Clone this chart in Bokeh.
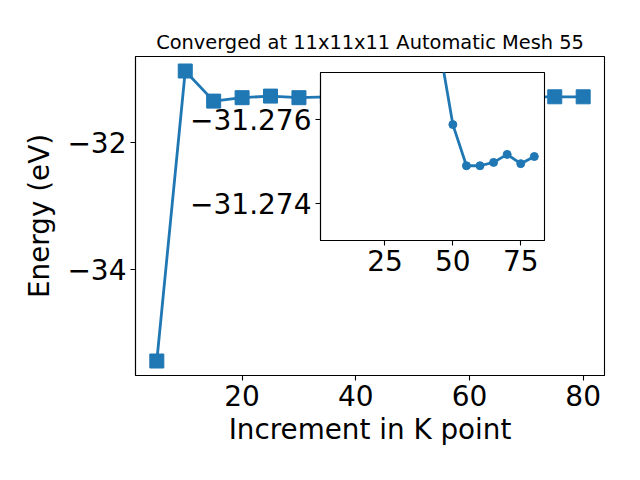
from bokeh.plotting import figure
from bokeh.models import Range1d, FixedTicker, CustomJSTickFormatter
from bokeh.layouts import column
from bokeh.embed import file_html
from bokeh.resources import INLINE

# ---- data ----
kpoints = [5, 10, 15, 20, 25, 30, 35, 40, 45, 50, 55, 60, 65, 70, 75, 80]
energy = [-35.433, -30.869, -31.343, -31.289, -31.264, -31.289, -31.275, -31.278,
          -31.27776, -31.27588, -31.27490, -31.27490, -31.27498, -31.27517, -31.27495, -31.27512]
inset_start = 8
inset_k = kpoints[inset_start:]
inset_e = energy[inset_start:]

main_xticks = [20, 40, 60, 80]
main_yticks = [-34, -32]
inset_xticks = [25, 50, 75]
inset_yticks = [-31.276, -31.274]
inset_ylim = (-31.27312, -31.27712)  # inverted axis (bottom, top)

title_text = "Converged at 11x11x11 Automatic Mesh 55"
xlabel = "Increment in K point"
ylabel = "Energy (eV)"

BLUE = "#1f77b4"
FONT = "DejaVu Sans"
TICK_PX = "28px"
BORDER_L = 135
BORDER_R = 20


def style_axes(fig, digits):
    fmt = CustomJSTickFormatter(
        code="return (tick < 0 ? '\\u2212' : '') + Math.abs(tick).toFixed(%d);" % digits)
    for ax in fig.xaxis + fig.yaxis:
        ax.major_label_text_font = FONT
        ax.major_label_text_font_size = TICK_PX
        ax.major_label_text_color = "black"
        ax.axis_line_color = "black"
        ax.axis_line_width = 1.1
        ax.major_tick_line_color = "black"
        ax.major_tick_line_width = 1.1
        ax.major_tick_out = 5
        ax.major_tick_in = 0
        ax.minor_tick_out = 0
        ax.minor_tick_in = 0
        ax.major_label_standoff = 4
        ax.axis_label_text_font = FONT
        ax.axis_label_text_font_style = "normal"
        ax.axis_label_text_color = "black"
    for ax in fig.yaxis:
        ax.formatter = fmt
    fig.xgrid.visible = False
    fig.ygrid.visible = False
    fig.outline_line_color = "black"
    fig.outline_line_width = 1.1
    fig.outline_line_alpha = 1.0


# ---- main figure ----
xpad = (max(kpoints) - min(kpoints)) * 0.05
ypad = (max(energy) - min(energy)) * 0.05
p = figure(width=624, height=464, output_backend="svg", toolbar_location=None,
           x_range=Range1d(min(kpoints) - xpad, max(kpoints) + xpad),
           y_range=Range1d(min(energy) - ypad, max(energy) + ypad),
           min_border_left=BORDER_L, min_border_right=BORDER_R,
           min_border_top=56, min_border_bottom=89)
p.line(kpoints, energy, line_color=BLUE, line_width=2.8)
p.scatter(kpoints, energy, marker="square", size=14, fill_color=BLUE, line_color=BLUE)
style_axes(p, 0)
p.xaxis.ticker = FixedTicker(ticks=main_xticks)
p.yaxis.ticker = FixedTicker(ticks=main_yticks)
p.xaxis.axis_label = xlabel
p.yaxis.axis_label = ylabel
p.xaxis.axis_label_text_font_size = "27.8px"
p.yaxis.axis_label_text_font_size = "27.8px"
p.xaxis.axis_label_standoff = 4
p.yaxis.axis_label_standoff = 8
p.title.text = title_text
p.title.align = "center"
p.title.text_font = FONT
p.title.text_font_size = "19.4px"
p.title.text_font_style = "normal"
p.title.text_color = "black"
p.title.standoff = 6

# ---- inset figure ----
ins = figure(width=BORDER_L + 224 + BORDER_R, height=2 + 168 + 45,
             output_backend="svg", toolbar_location=None,
             x_range=Range1d(min(kpoints) - xpad, max(kpoints) + xpad),
             y_range=Range1d(*inset_ylim),
             min_border_left=BORDER_L, min_border_right=BORDER_R,
             min_border_top=2, min_border_bottom=45,
             background_fill_color="white", border_fill_alpha=0)
ins.line(inset_k, inset_e, line_color=BLUE, line_width=2.8)
ins.scatter(inset_k, inset_e, marker="circle", size=8, fill_color=BLUE, line_color=BLUE)
style_axes(ins, 3)
ins.xaxis.ticker = FixedTicker(ticks=inset_xticks)
ins.yaxis.ticker = FixedTicker(ticks=inset_yticks)
ins.margin = (70 - 464, 0, 0, 320 - BORDER_L)

layout = column(p, ins)
open("out.html", "w").write(file_html(layout, INLINE))
